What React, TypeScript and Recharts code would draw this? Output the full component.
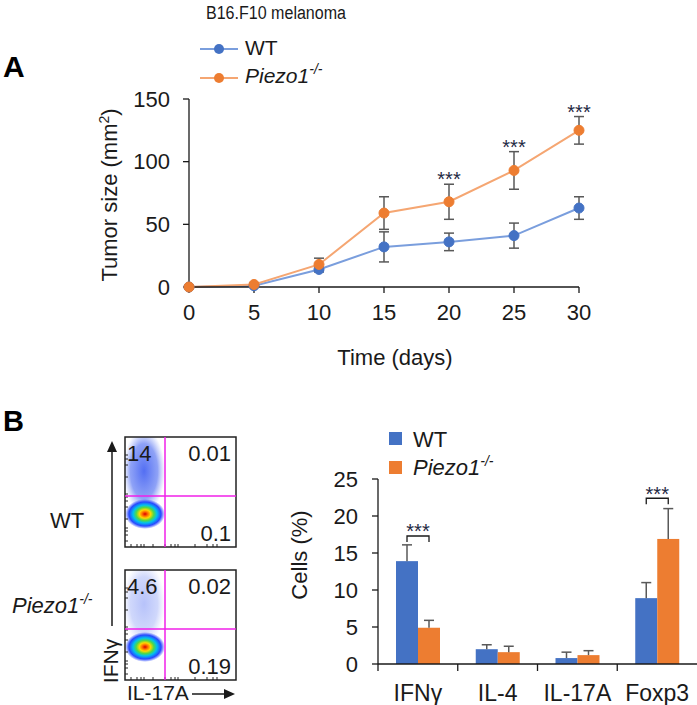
import React from 'react';
import { LineChart, Line, XAxis, YAxis, ErrorBar, LabelList, BarChart, Bar } from 'recharts';

// panel A: tumour growth
const days = [0, 5, 10, 15, 20, 25, 30];
const wtSize = [0, 1, 14, 32, 36, 41, 63];
const wtSizeErr = [0, 0.5, 2, 12, 7, 10, 9];
const koSize = [0, 2, 18, 59, 68, 93, 125];
const koSizeErr = [0, 1, 5, 13, 14, 15, 11];
const sizeSig = ['', '', '', '', '***', '***', '***'];
const sizeTicks = [0, 50, 100, 150];
const dayTicks = [0, 5, 10, 15, 20, 25, 30];

// panel B: cell fractions
const cellTypes = ['IFNγ', 'IL-4', 'IL-17A', 'Foxp3'];
const wtCells = [13.9, 2.0, 0.8, 8.9];
const wtCellsErr = [2.2, 0.6, 0.8, 2.1];
const koCells = [4.9, 1.6, 1.2, 16.9];
const koCellsErr = [1.0, 0.8, 0.6, 4.1];
const cellSig = ['***', '', '', '***'];
const cellBracket = [17.3, null, null, 22.4];
const cellTicks = [0, 5, 10, 15, 20, 25];

// flow plots (quadrant percentages)
const flowQ1 = ['14', '4.6'];
const flowQ2 = ['0.01', '0.02'];
const flowQ4 = ['0.1', '0.19'];
// little log-scale ticks on the flow plot frames
const flowTickOffsets = [6, 12, 16, 19, 28, 40, 46, 50, 53, 70, 82, 88, 92];

const BLUE = '#4472C4';
const ORANGE = '#ED7D31';
const BLUE_LINE = '#7A9EDD';
const ORANGE_LINE = '#F5A672';
const ERR = '#595959';
const INK = '#1a1a1a';
const STAR = '#1f2a44';
const MAGENTA = '#f020e8';
const FS = 22;

const sizeData = days.map((d, i) => ({
  day: d,
  wt: wtSize[i],
  wtErr: wtSizeErr[i],
  ko: koSize[i],
  koErr: koSizeErr[i],
  koTop: koSize[i] + koSizeErr[i],
  sig: sizeSig[i],
}));

const cellData = cellTypes.map((name, i) => ({
  name,
  wt: wtCells[i],
  wtErr: wtCellsErr[i],
  ko: koCells[i],
  koErr: koCellsErr[i],
  sig: cellSig[i],
  bracket: cellBracket[i],
}));

const StarLabel = (props: any) => {
  const { x, y, value } = props;
  if (!value) return null;
  return (
    <text x={x} y={y + 2} textAnchor="middle" fontSize={20} fill={STAR}>
      {value}
    </text>
  );
};

const ErrBarShape = (props: any) => {
  const { x, y, width, height, fill, payload, valKey, errKey, withBracket } = props;
  const val = payload[valKey];
  const ppu = val ? height / val : 0;
  const cx = x + width / 2;
  const errTop = y - payload[errKey] * ppu;
  const zero = y + height;
  let bracket = null;
  if (withBracket && payload.bracket != null) {
    const yb = zero - payload.bracket * ppu;
    const lx = x - width / 2;
    const rx = x + width / 2;
    bracket = (
      <g>
        <path d={`M${lx},${yb + 6} L${lx},${yb} L${rx},${yb} L${rx},${yb + 6}`} fill="none" stroke={INK} strokeWidth={1.3} />
        <text x={x} y={yb + 2.5} textAnchor="middle" fontSize={20} fill={STAR}>
          {payload.sig}
        </text>
      </g>
    );
  }
  return (
    <g>
      <rect x={x} y={y} width={width} height={height} fill={fill} />
      <line x1={cx} y1={y} x2={cx} y2={errTop} stroke={ERR} strokeWidth={1.5} />
      <line x1={cx - 5} y1={errTop} x2={cx + 5} y2={errTop} stroke={ERR} strokeWidth={1.5} />
      {bracket}
    </g>
  );
};

const CellTick = (props: any) => {
  const { x, y, payload } = props;
  const off = payload.offset ?? 0;
  return (
    <g>
      <line x1={x - off} y1={y} x2={x - off} y2={y + 7} stroke={INK} strokeWidth={1.3} />
      <text x={x} y={y + 37} textAnchor="middle" fontSize={23} fill={INK}>
        {payload.value}
      </text>
    </g>
  );
};

const FlowPlot = ({ top, idx, dim }: { top: number; idx: number; dim: boolean }) => (
  <g>
    <clipPath id={`fc${idx}`}>
      <rect x={125} y={top} width={111} height={110} />
    </clipPath>
    <g clipPath={`url(#fc${idx})`}>
      <ellipse cx={144} cy={top + 34} rx={21} ry={42} fill="url(#cloud)" opacity={dim ? 0.4 : 0.95} />
      <ellipse cx={145} cy={top + 77} rx={20} ry={15} fill="url(#hot)" />
    </g>
    <rect x={125} y={top} width={111} height={110} fill="none" stroke="#222" strokeWidth={1.5} />
    {flowTickOffsets.map((o) => (
      <g key={o}>
        <line x1={125} y1={top + 110 - o} x2={128} y2={top + 110 - o} stroke="#222" strokeWidth={1} />
        <line x1={125 + o} y1={top + 110} x2={125 + o} y2={top + 107} stroke="#222" strokeWidth={1} />
      </g>
    ))}
    <line x1={165} y1={top} x2={165} y2={top + 110} stroke={MAGENTA} strokeWidth={1.5} />
    <line x1={125} y1={top + 59} x2={236} y2={top + 59} stroke={MAGENTA} strokeWidth={1.5} />
    <text x={127} y={top + 24} fontSize={FS} fill={INK}>{flowQ1[idx]}</text>
    <text x={231} y={top + 24} fontSize={FS} fill={INK} textAnchor="end">{flowQ2[idx]}</text>
    <text x={231} y={top + 104} fontSize={FS} fill={INK} textAnchor="end">{flowQ4[idx]}</text>
  </g>
);

const Overlay = () => (
  <svg width={697} height={705} style={{ position: 'absolute', left: 0, top: 0, pointerEvents: 'none' }}>
    <defs>
      <radialGradient id="hot">
        <stop offset="0%" stopColor="#d80000" />
        <stop offset="14%" stopColor="#ff6a00" />
        <stop offset="28%" stopColor="#ffd800" />
        <stop offset="44%" stopColor="#50d848" />
        <stop offset="60%" stopColor="#00c0f0" />
        <stop offset="80%" stopColor="#2848ff" />
        <stop offset="100%" stopColor="#2848ff" stopOpacity={0} />
      </radialGradient>
      <radialGradient id="cloud">
        <stop offset="0%" stopColor="#2a4cf0" stopOpacity={0.85} />
        <stop offset="65%" stopColor="#3a5cf0" stopOpacity={0.6} />
        <stop offset="100%" stopColor="#6a84f5" stopOpacity={0} />
      </radialGradient>
    </defs>

    {/* panel A titles and legend */}
    <text x={3} y={77} fontSize={30} fontWeight="bold" fill="#000">A</text>
    <text x={206} y={19} fontSize={18} fill={INK} textLength={140} lengthAdjust="spacingAndGlyphs">B16.F10 melanoma</text>
    <line x1={200} y1={49} x2={238} y2={49} stroke={BLUE_LINE} strokeWidth={2} />
    <circle cx={219} cy={49} r={5} fill={BLUE} />
    <text x={245} y={55} fontSize={21} fill={INK}>WT</text>
    <line x1={200} y1={78} x2={238} y2={78} stroke={ORANGE_LINE} strokeWidth={2} />
    <circle cx={219} cy={78} r={5} fill={ORANGE} />
    <text x={245} y={83} fontSize={21} fill={INK} fontStyle="italic">
      Piezo1<tspan fontSize={14} dy={-9}>-/-</tspan>
    </text>
    <text x={117} y={195} fontSize={FS} fill={INK} textAnchor="middle" transform="rotate(-90 117 195)">
      Tumor size (mm<tspan fontSize={14} dy={-8}>2</tspan><tspan dy={8}>)</tspan>
    </text>
    <text x={395} y={365} fontSize={FS} fill={INK} textAnchor="middle">Time (days)</text>

    {/* panel B */}
    <text x={3} y={431} fontSize={29} fontWeight="bold" fill="#000">B</text>
    <FlowPlot top={437} idx={0} dim={false} />
    <FlowPlot top={570} idx={1} dim={true} />
    <text x={50} y={528} fontSize={FS} fill={INK}>WT</text>
    <text x={12} y={613} fontSize={FS} fill={INK} fontStyle="italic">
      Piezo1<tspan fontSize={14} dy={-9}>-/-</tspan>
    </text>
    <line x1={112} y1={450} x2={112} y2={626} stroke={INK} strokeWidth={1.5} />
    <path d="M107,452 L112,441 L117,452 Z" fill={INK} />
    <text x={118} y={661} fontSize={21} fill={INK} textAnchor="middle" transform="rotate(-90 118 661)">IFNγ</text>
    <text x={127} y={700} fontSize={21} fill={INK}>IL-17A</text>
    <line x1={192} y1={694} x2={226} y2={694} stroke={INK} strokeWidth={1.5} />
    <path d="M224,689 L235,694 L224,699 Z" fill={INK} />

    <rect x={389} y={432} width={13} height={13} fill={BLUE} />
    <text x={413} y={447} fontSize={FS} fill={INK}>WT</text>
    <rect x={389} y={461} width={13} height={13} fill={ORANGE} />
    <text x={413} y={475} fontSize={FS} fill={INK} fontStyle="italic">
      Piezo1<tspan fontSize={14} dy={-9}>-/-</tspan>
    </text>
    <text x={307} y={555} fontSize={FS} fill={INK} textAnchor="middle" transform="rotate(-90 307 555)">Cells (%)</text>
  </svg>
);

export default function App() {
  return (
    <div
      style={{
        position: 'absolute',
        left: 0,
        top: 0,
        width: 697,
        height: 705,
        background: '#fff',
        fontFamily: '"Liberation Sans", Arial, sans-serif',
        overflow: 'hidden',
      }}
    >
      <div style={{ position: 'absolute', left: 0, top: 0 }}>
        <LineChart width={697} height={380} data={sizeData} margin={{ top: 99, right: 118, bottom: 63, left: 0 }}>
          <XAxis
            dataKey="day"
            type="number"
            domain={[0, 30]}
            ticks={dayTicks}
            interval={0}
            height={30}
            tickSize={6}
            tickMargin={11}
            axisLine={{ stroke: INK, strokeWidth: 1.3 }}
            tickLine={{ stroke: INK, strokeWidth: 1.3 }}
            tick={{ fill: INK, fontSize: FS }}
          />
          <YAxis
            type="number"
            domain={[0, 150]}
            ticks={sizeTicks}
            interval={0}
            width={189}
            tickSize={6}
            tickMargin={13}
            axisLine={{ stroke: INK, strokeWidth: 1.3 }}
            tickLine={{ stroke: INK, strokeWidth: 1.3 }}
            tick={{ fill: INK, fontSize: FS }}
          />
          <Line
            dataKey="wt"
            stroke={BLUE_LINE}
            strokeWidth={2}
            dot={{ r: 5, fill: BLUE, stroke: BLUE, strokeWidth: 1 }}
            isAnimationActive={false}
          >
            <ErrorBar dataKey="wtErr" width={5} stroke={ERR} strokeWidth={1.5} direction="y" />
          </Line>
          <Line
            dataKey="ko"
            stroke={ORANGE_LINE}
            strokeWidth={2}
            dot={{ r: 5, fill: ORANGE, stroke: ORANGE, strokeWidth: 1 }}
            isAnimationActive={false}
          >
            <ErrorBar dataKey="koErr" width={5} stroke={ERR} strokeWidth={1.5} direction="y" />
          </Line>
          <Line dataKey="koTop" stroke="none" dot={false} activeDot={false} isAnimationActive={false}>
            <LabelList dataKey="sig" content={<StarLabel />} />
          </Line>
        </LineChart>
      </div>

      <div style={{ position: 'absolute', left: 0, top: 400 }}>
        <BarChart
          width={697}
          height={305}
          data={cellData}
          margin={{ top: 79, right: 0, bottom: 0, left: 0 }}
          barCategoryGap={18}
          barGap={0}
        >
          <XAxis
            dataKey="name"
            height={41}
            interval={0}
            tickSize={0}
            tickMargin={0}
            axisLine={{ stroke: INK, strokeWidth: 1.3 }}
            tickLine={false}
            tick={<CellTick />}
          />
          <YAxis
            type="number"
            domain={[0, 25]}
            ticks={cellTicks}
            interval={0}
            width={378}
            tickSize={6}
            tickMargin={14}
            axisLine={{ stroke: INK, strokeWidth: 1.3 }}
            tickLine={{ stroke: INK, strokeWidth: 1.3 }}
            tick={{ fill: INK, fontSize: FS }}
          />
          <Bar
            dataKey="wt"
            fill={BLUE}
            isAnimationActive={false}
            shape={(p: any) => <ErrBarShape {...p} valKey="wt" errKey="wtErr" />}
          />
          <Bar
            dataKey="ko"
            fill={ORANGE}
            isAnimationActive={false}
            shape={(p: any) => <ErrBarShape {...p} valKey="ko" errKey="koErr" withBracket />}
          />
        </BarChart>
      </div>

      <Overlay />
    </div>
  );
}
